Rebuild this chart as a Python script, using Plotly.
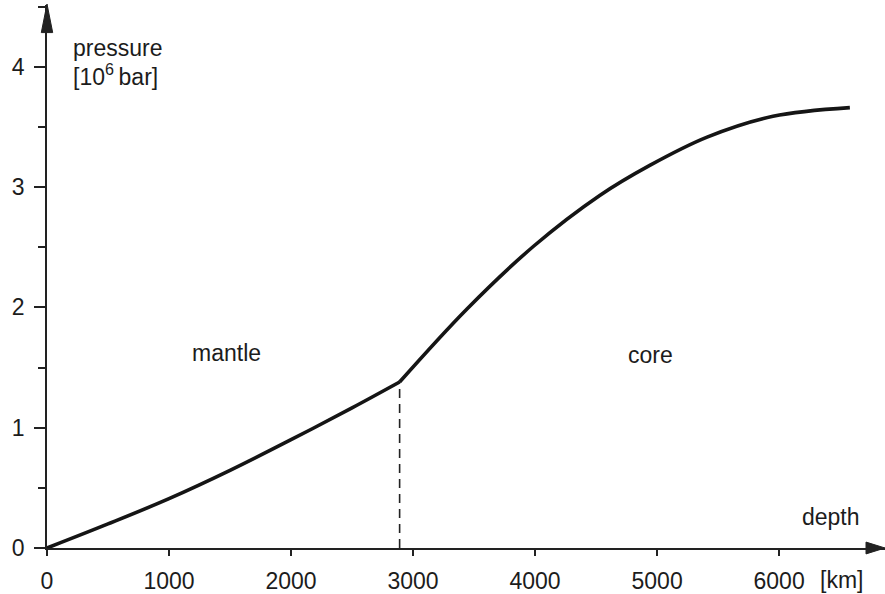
import plotly.graph_objects as go

# Pressure inside the Earth versus depth (10^6 bar vs km)
mantle_depth_km = [0, 500, 1000, 1500, 2000, 2500, 2890]
mantle_pressure = [0.0, 0.20, 0.41, 0.645, 0.90, 1.165, 1.38]

core_depth_km = [2890, 3440, 3990, 4530, 4940, 5410, 5950, 6580]
core_pressure = [1.38, 1.985, 2.51, 2.93, 3.18, 3.415, 3.588, 3.66]

# core-mantle boundary
boundary_depth_km = mantle_depth_km[-1]
boundary_pressure = mantle_pressure[-1]

x_ticks = [0, 1000, 2000, 3000, 4000, 5000, 6000]
x_tick_labels = ["0", "1000", "2000", "3000", "4000", "5000", "6000"]
y_ticks = [0, 1, 2, 3, 4]
y_tick_labels = ["0", "1", "2", "3", "4"]

W, H = 885, 594
ML, MB, MT, MR = 46.7, 38, 5, 0
X_MAX = 6868
Y_MAX = 4.513

INK = "#151515"
AXIS = "#222222"
TEXT = "#1c1c1c"
FONT = "Liberation Sans, Arial, sans-serif"
FS = 23

fig = go.Figure()

fig.add_trace(go.Scatter(
    x=[boundary_depth_km, boundary_depth_km], y=[0, boundary_pressure],
    mode="lines", line=dict(color=AXIS, width=1.6, dash="9px,6px"),
    hoverinfo="skip", showlegend=False))

fig.add_trace(go.Scatter(
    x=mantle_depth_km, y=mantle_pressure, mode="lines",
    line=dict(color=INK, width=3.6, shape="spline", smoothing=1.0),
    showlegend=False))

fig.add_trace(go.Scatter(
    x=core_depth_km, y=core_pressure, mode="lines",
    line=dict(color=INK, width=3.6, shape="spline", smoothing=1.0),
    showlegend=False))

fig.update_xaxes(
    range=[0, X_MAX], showgrid=False, zeroline=False,
    showline=True, linecolor=AXIS, linewidth=1.8,
    tickmode="array", tickvals=x_ticks, ticktext=x_tick_labels,
    ticks="outside", ticklen=6, tickwidth=1.6, tickcolor=AXIS,
    ticklabelstandoff=5,
    tickfont=dict(family=FONT, size=FS, color=TEXT))

fig.update_yaxes(
    range=[0, Y_MAX], showgrid=False, zeroline=False,
    showline=True, linecolor=AXIS, linewidth=1.8,
    tickmode="array", tickvals=y_ticks, ticktext=y_tick_labels,
    ticks="outside", ticklen=11, tickwidth=1.6, tickcolor=AXIS,
    ticklabelstandoff=5,
    minor=dict(dtick=0.5, ticks="outside", ticklen=7, tickwidth=1.6,
               tickcolor=AXIS, showgrid=False),
    tickfont=dict(family=FONT, size=FS, color=TEXT))

# arrowheads at the ends of both axes (paper coordinates)
pw = W - ML - MR
ph = H - MB - MT


def px_to_paper(px, py):
    return (px - ML) / pw, (H - MB - py) / ph


tip = px_to_paper(46.7, 4)
bl = px_to_paper(41.0, 33)
br = px_to_paper(52.4, 33)
fig.add_shape(type="path", xref="paper", yref="paper",
              path=f"M {tip[0]},{tip[1]} L {bl[0]},{bl[1]} L {br[0]},{br[1]} Z",
              fillcolor=AXIS, line=dict(color=AXIS, width=1))

tip = px_to_paper(885, 556)
bt = px_to_paper(866, 550)
bb = px_to_paper(866, 562)
fig.add_shape(type="path", xref="paper", yref="paper",
              path=f"M {tip[0]},{tip[1]} L {bt[0]},{bt[1]} L {bb[0]},{bb[1]} Z",
              fillcolor=AXIS, line=dict(color=AXIS, width=1))

text_font = dict(family=FONT, size=FS, color=TEXT)
annotations = [
    dict(x=200, y=4.152, yref="y", text="pressure", xanchor="left"),
    dict(x=200, y=3.93, yref="y", text="[10<sup>6</sup>\u2009bar]", xanchor="left"),
    dict(x=1467, y=1.62, yref="y", text="mantle", xanchor="center"),
    dict(x=4943, y=1.605, yref="y", text="core", xanchor="center"),
    dict(x=6426, y=0.254, yref="y", text="depth", xanchor="center"),
    dict(x=6508, y=-32 / ph, yref="paper", text="[km]", xanchor="center"),
]
for a in annotations:
    fig.add_annotation(xref="x", showarrow=False, font=text_font,
                       yanchor="middle", **a)

fig.update_layout(
    width=W, height=H,
    margin=dict(l=ML, r=MR, t=MT, b=MB, pad=0),
    paper_bgcolor="white", plot_bgcolor="white",
    showlegend=False)

fig.write_html("out.html")
